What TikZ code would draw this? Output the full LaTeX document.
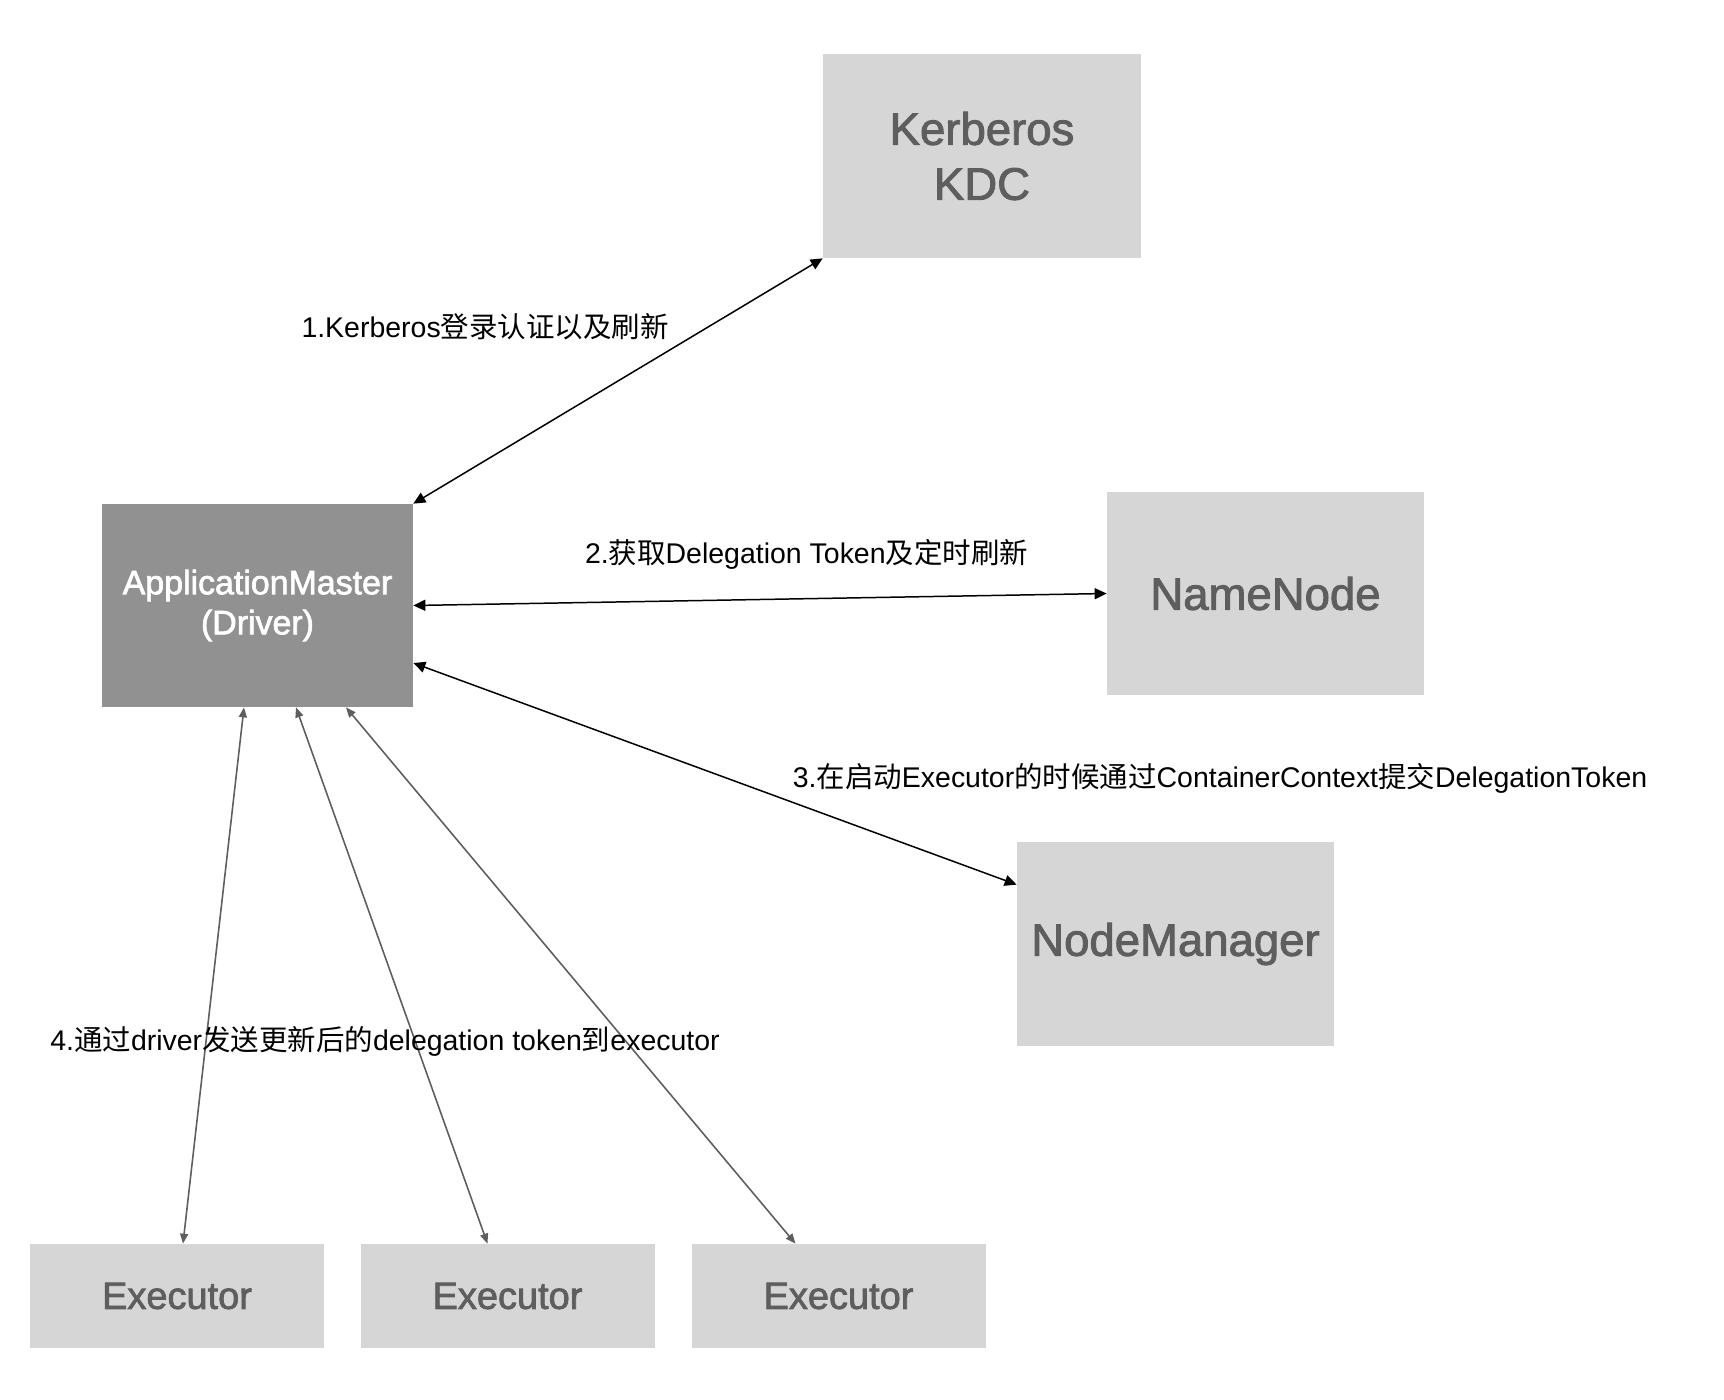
\documentclass[tikz,border=0pt]{standalone}
\usepackage{fontspec}
\setmainfont{Liberation Sans}
\newfontfamily\cjk{Noto Sans CJK SC}
\newfontfamily\boxfont[FakeBold=2]{Liberation Sans}
\usepackage{tikz}
\usetikzlibrary{arrows.meta}
\definecolor{boxgray}{HTML}{D6D6D6}
\definecolor{mastergray}{HTML}{919191}
\definecolor{textgray}{HTML}{5E5E5E}

\begin{document}
\begin{tikzpicture}[
	lightbox/.style={fill=boxgray, text=textgray, inner sep=0pt, align=center, minimum width=6.34cm, minimum height=4.08cm, font=\boxfont\fontsize{25.9}{31.3}\selectfont},
	execbox/.style={fill=boxgray, text=textgray, inner sep=0pt, minimum width=5.88cm, minimum height=2.08cm, font=\boxfont\fontsize{21.6}{26}\selectfont},
	masterbox/.style={fill=mastergray, text=white, inner sep=0pt, align=center, minimum width=6.22cm, minimum height=4.06cm, font=\boxfont\fontsize{19.3}{22.8}\selectfont},
	steplabel/.style={inner sep=0pt, font=\fontsize{16.2}{19}\selectfont},
	blackarrow/.style={{Triangle[length=0.24cm,width=0.22cm]}-{Triangle[length=0.24cm,width=0.22cm]}, line width=0.85pt, black},
	grayarrow/.style={{Triangle[length=0.2cm,width=0.16cm]}-{Triangle[length=0.2cm,width=0.16cm]}, line width=0.9pt, textgray}
]
	\useasboundingbox (0,0) rectangle (34.48,-28);
	
	% Draw boxes
	\node[lightbox, minimum width=6.36cm] (kdc) at (19.64,-3.12) {Kerberos\\KDC};
	\node[masterbox] (am) at (5.15,-12.11) {ApplicationMaster\\(Driver)};
	\node[lightbox, minimum height=4.06cm] (nn) at (25.31,-11.87) {NameNode};
	\node[lightbox] (nm) at (23.51,-18.88) {NodeManager};
	
	% Draw executors
	\node[execbox] (ex1) at (3.54,-25.92) {Executor};
	\node[execbox] (ex2) at (10.15,-25.92) {Executor};
	\node[execbox] (ex3) at (16.77,-25.92) {Executor};
	
	% Draw connectors from the driver
	\draw[blackarrow] (am.north east) -- (kdc.south west);
	\draw[blackarrow] (am.east) -- (nn.west);
	\draw[blackarrow] ([yshift=-1.15cm] am.east) -- ([yshift=-0.86cm] nm.north west);
	\draw[grayarrow] ([xshift=-0.27cm] am.south) -- ([xshift=0.12cm] ex1.north);
	\draw[grayarrow] ([xshift=0.77cm] am.south) -- ([xshift=-0.4cm] ex2.north);
	\draw[grayarrow] ([xshift=1.77cm] am.south) -- ([xshift=-0.86cm] ex3.north);
	
	% Draw step labels
	\node[steplabel] (lbl1) at (9.7,-6.54) {1.Kerberos{\cjk 登录认证以及刷新}};
	\node[steplabel] (lbl2) at (16.13,-11.08) {2.{\cjk 获取}Delegation Token{\cjk 及定时刷新}};
	\node[steplabel] (lbl3) at (24.4,-15.56) {3.{\cjk 在启动}Executor{\cjk 的时候通过}ContainerContext{\cjk 提交}DelegationToken};
	\node[steplabel] (lbl4) at (7.7,-20.82) {4.{\cjk 通过}driver{\cjk 发送更新后的}delegation token{\cjk 到}executor};
	
\end{tikzpicture}
\end{document}
